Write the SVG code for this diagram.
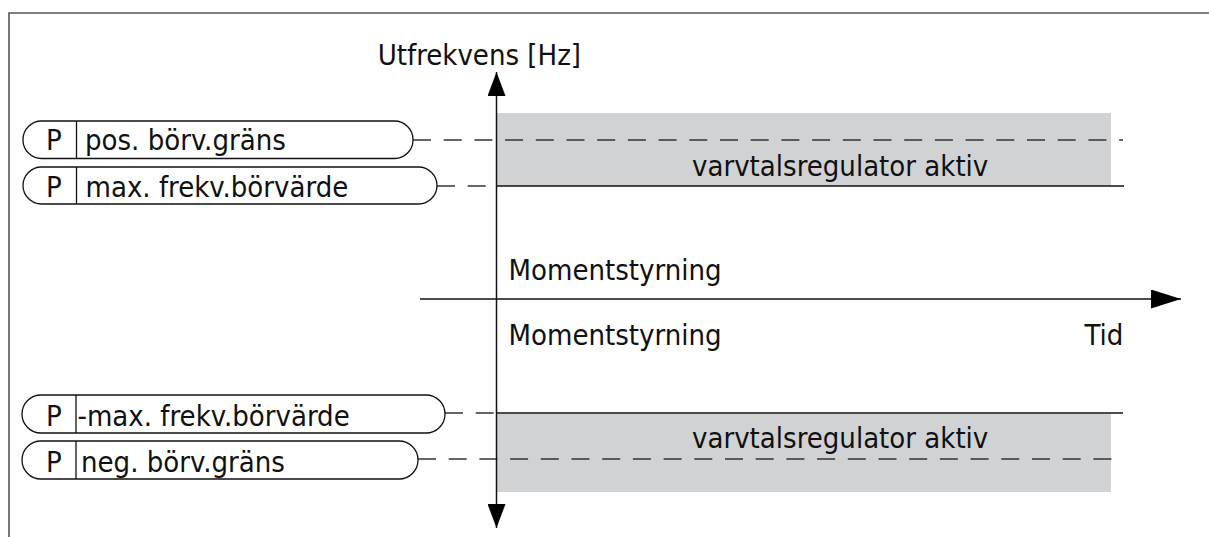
<svg xmlns="http://www.w3.org/2000/svg" width="1209" height="537" viewBox="0 0 1209 537">
<style>
text{font-family:"DejaVu Sans Condensed","DejaVu Sans","Verdana",sans-serif;font-stretch:condensed;font-size:29px;fill:#111}
.pill{fill:#fff;stroke:#111;stroke-width:1.3}
.div{stroke:#111;stroke-width:1.3}
.dash{stroke:#333;stroke-width:1.3;stroke-dasharray:18 12.7;fill:none}
.solid{stroke:#111;stroke-width:1.5;fill:none}
.band{fill:#d1d2d4}
</style>
<defs>
<marker id="ah" viewBox="0 0 24 18" refX="24" refY="9" markerWidth="24" markerHeight="18" markerUnits="userSpaceOnUse" orient="auto">
<path d="M0,0 L24,9 L0,18 Z" fill="#000"/>
</marker>
<marker id="ahx" viewBox="0 0 30 19" refX="30" refY="9.5" markerWidth="30" markerHeight="19" markerUnits="userSpaceOnUse" orient="auto">
<path d="M0,0 L30,9.5 L0,19 Z" fill="#000"/>
</marker>
</defs>
<path d="M9,537 V13 H1209" fill="none" stroke="#555" stroke-width="1.6"/>
<g id="bands">
<rect class="band" x="497" y="113" width="614" height="73"/>
<rect class="band" x="497" y="414" width="614" height="78"/>
</g>
<g id="connectors">
<line class="dash" x1="413" y1="140" x2="1123" y2="140"/>
<line class="dash" x1="437" y1="186" x2="497" y2="186"/>
<line class="solid" x1="497" y1="186" x2="1124" y2="186"/>
<line class="dash" x1="445" y1="413" x2="497" y2="413"/>
<line class="solid" x1="497" y1="413" x2="1123" y2="413"/>
<line class="dash" x1="418" y1="459" x2="1117" y2="459"/>
<line class="solid" x1="496.5" y1="299" x2="496.5" y2="72" marker-end="url(#ah)"/>
<line class="solid" x1="496.5" y1="299" x2="496.5" y2="528" marker-end="url(#ah)"/>
<line class="solid" x1="420" y1="299" x2="1181" y2="299" marker-end="url(#ahx)"/>
</g>
<g id="p-pos">
<rect class="pill" x="23" y="121" width="390" height="37.5" rx="18.5" ry="18.5"/>
<line class="div" x1="76.5" y1="121" x2="76.5" y2="158.5"/>
<text x="46" y="150">P</text>
<text x="85" y="150">pos. börv.gräns</text>
</g>
<g id="p-max">
<rect class="pill" x="23" y="167" width="414" height="37" rx="18.5" ry="18.5"/>
<line class="div" x1="76.5" y1="167" x2="76.5" y2="204"/>
<text x="46" y="196.5">P</text>
<text x="85.5" y="196.5">max. frekv.börvärde</text>
</g>
<g id="p-negmax">
<rect class="pill" x="22" y="395" width="423" height="38" rx="19" ry="19"/>
<line class="div" x1="76" y1="395" x2="76" y2="433"/>
<text x="46" y="425.5">P</text>
<text x="77.5" y="425.5">-max. frekv.börvärde</text>
</g>
<g id="p-neg">
<rect class="pill" x="22" y="441" width="396" height="38" rx="19" ry="19"/>
<line class="div" x1="76" y1="441" x2="76" y2="479"/>
<text x="46" y="471.5">P</text>
<text x="81" y="471.5">neg. börv.gräns</text>
</g>
<g id="labels">
<text x="377.7" y="65">Utfrekvens [Hz]</text>
<text x="692" y="176">varvtalsregulator aktiv</text>
<text x="692" y="448">varvtalsregulator aktiv</text>
<text x="508.5" y="280">Momentstyrning</text>
<text x="508.5" y="345">Momentstyrning</text>
<text x="1084.5" y="345">Tid</text>
</g>
</svg>
